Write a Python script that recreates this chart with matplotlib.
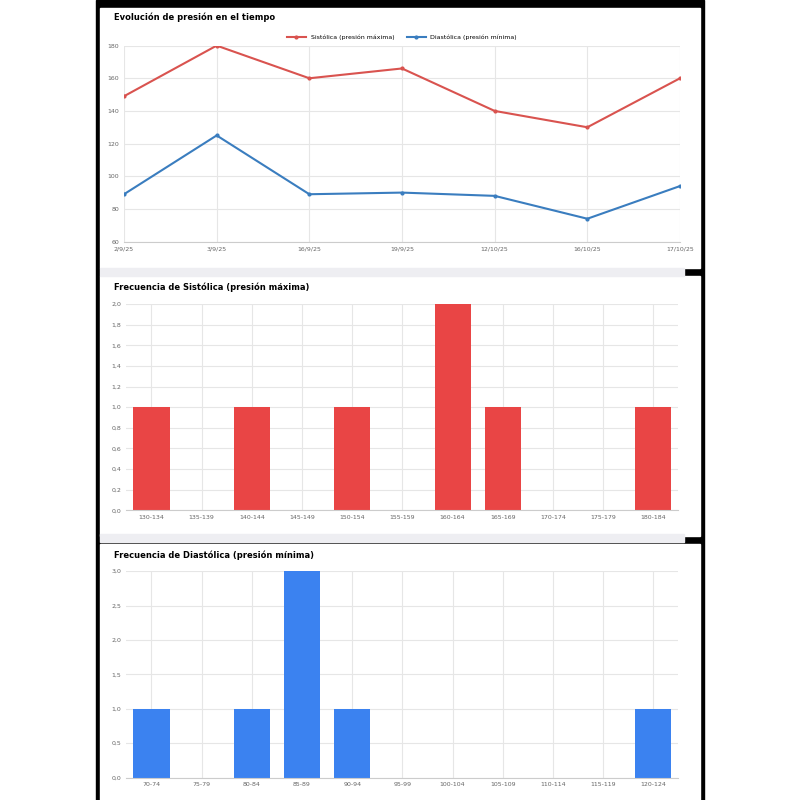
import matplotlib
matplotlib.use("Agg")
import matplotlib.pyplot as plt
from matplotlib.patches import Rectangle
from matplotlib.ticker import FuncFormatter

dates = ["2/9/25", "3/9/25", "16/9/25", "19/9/25", "12/10/25", "16/10/25", "17/10/25"]
sistolica = [149, 180, 160, 166, 140, 130, 160]
diastolica = [89, 125, 89, 90, 88, 74, 94]

sis_bins = ["130-134", "135-139", "140-144", "145-149", "150-154", "155-159",
            "160-164", "165-169", "170-174", "175-179", "180-184"]
sis_freq = [1, 0, 1, 0, 1, 0, 2, 1, 0, 0, 1]
dia_bins = ["70-74", "75-79", "80-84", "85-89", "90-94", "95-99",
            "100-104", "105-109", "110-114", "115-119", "120-124"]
dia_freq = [1, 0, 1, 3, 1, 0, 0, 0, 0, 0, 1]

RED = "#e94545"
BLUE = "#3b82f0"
fig = plt.figure(figsize=(8, 8), dpi=100, facecolor="white")
# black frame
fig.patches.append(Rectangle((0.12, 0), 0.76, 1, transform=fig.transFigure, color="black", zorder=-10))
for y0, h in [(0.665, 0.325), (0.33, 0.325), (0.0, 0.32)]:
    fig.patches.append(Rectangle((0.125, y0), 0.75, h, transform=fig.transFigure, color="white", zorder=-9))
for y0 in [0.655, 0.322]:
    fig.patches.append(Rectangle((0.125, y0), 0.73, 0.01, transform=fig.transFigure, color="#eeeef2", zorder=-8))

def style(ax):
    ax.grid(True, color="#e6e6e6", lw=0.8)
    ax.set_axisbelow(True)
    for s in ax.spines.values():
        s.set_visible(False)
    ax.spines["bottom"].set_visible(True)
    ax.spines["bottom"].set_color("#cccccc")
    ax.tick_params(length=0, labelsize=4.5, colors="#666666")

comma = FuncFormatter(lambda v, p: ("%.1f" % v).replace(".", ","))

ax1 = fig.add_axes([0.155, 0.698, 0.695, 0.245])
ax1.plot(range(7), sistolica, color="#d9534f", lw=1.5, marker="o", ms=2)
ax1.plot(range(7), diastolica, color="#3a7dbf", lw=1.5, marker="o", ms=2)
ax1.set_ylim(60, 180)
ax1.set_yticks(range(60, 181, 20))
ax1.set_xticks(range(7)); ax1.set_xticklabels(dates)
ax1.set_xlim(0, 6)
style(ax1)
ax1.legend(["Sistólica (presión máxima)", "Diastólica (presión mínima)"], loc="lower center",
           bbox_to_anchor=(0.5, 1.0), ncol=2, fontsize=4.5, frameon=False, handlelength=3)
fig.text(0.143, 0.975, "Evolución de presión en el tiempo", fontsize=6, weight="bold")

ax2 = fig.add_axes([0.158, 0.362, 0.69, 0.258])
ax2.bar(range(11), sis_freq, color=RED, width=0.72)
ax2.set_ylim(0, 2); ax2.set_yticks([i / 5 for i in range(11)])
ax2.yaxis.set_major_formatter(comma)
ax2.set_xticks(range(11)); ax2.set_xticklabels(sis_bins)
ax2.set_xlim(-0.5, 10.5)
style(ax2)
fig.text(0.143, 0.637, "Frecuencia de Sistólica (presión máxima)", fontsize=6, weight="bold")

ax3 = fig.add_axes([0.158, 0.028, 0.69, 0.258])
ax3.bar(range(11), dia_freq, color=BLUE, width=0.72)
ax3.set_ylim(0, 3); ax3.set_yticks([i / 2 for i in range(7)])
ax3.yaxis.set_major_formatter(comma)
ax3.set_xticks(range(11)); ax3.set_xticklabels(dia_bins)
ax3.set_xlim(-0.5, 10.5)
style(ax3)
fig.text(0.143, 0.303, "Frecuencia de Diastólica (presión mínima)", fontsize=6, weight="bold")

fig.savefig("out.png", dpi=100)
